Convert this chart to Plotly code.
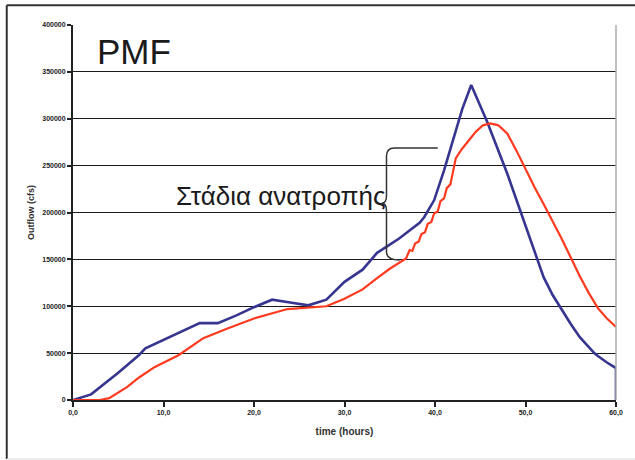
import plotly.graph_objects as go

# Blue series (time in hours, outflow in cfs)
blue_t = [0, 2, 5, 7.3, 8, 10, 12.5, 14, 16, 18, 20, 22, 24, 26, 28, 30, 32, 33.6, 36, 38.3,
          38.8, 39.9, 41, 42.1, 43, 44, 45.75, 48, 50, 52, 53, 54, 55, 56, 57, 57.6, 58, 59, 60, 60]
blue_v = [0, 6000, 29000, 48000, 55000, 64000, 75000, 82000, 82000, 90000, 99000, 107000, 104000,
          101000, 107000, 126000, 139000, 157000, 172000, 189000, 195000, 213000, 245000, 280000,
          310000, 336000, 297000, 241000, 186000, 131000, 112000, 96000, 81000, 67000, 56000,
          50000, 47000, 40000, 34000, 0]

# Red series
red_t = [0, 3, 4, 6, 7.3, 9, 11.7, 14.4, 17, 20, 23.7, 26, 28, 30, 32, 33.6, 35, 36.8,
         37.2, 37.5, 37.8, 38.2, 38.5, 38.9, 39.2, 39.6, 39.9, 40.3, 40.6, 41.0, 41.3, 41.7,
         42.0, 42.3, 43.0, 43.7, 44.5, 45.3, 46.1, 47, 48, 49, 50, 51, 52, 53, 54, 55, 56,
         57, 58, 59, 60]
red_v = [0, 0, 2000, 14000, 24000, 35000, 48000, 66000, 76000, 87000, 97000, 99000, 100000,
         108000, 118000, 130000, 140000, 151000,
         160000, 159000, 167000, 169000, 177000, 179000, 188000, 190000, 199000, 201000,
         212000, 215000, 226000, 230000, 245000, 258000, 268000, 277000, 286000, 293000,
         295000, 293000, 284000, 266000, 246000, 227000, 209000, 191000, 172000, 152000,
         132000, 114000, 98000, 87000, 78000]

x_ticks = [0, 10, 20, 30, 40, 50, 60]
x_tick_labels = ["0,0", "10,0", "20,0", "30,0", "40,0", "50,0", "60,0"]
y_ticks = [0, 50000, 100000, 150000, 200000, 250000, 300000, 350000, 400000]
y_tick_labels = ["0", "50000", "100000", "150000", "200000", "250000", "300000", "350000", "400000"]

fig = go.Figure()
fig.add_trace(go.Scatter(x=blue_t, y=blue_v, mode="lines",
                         line=dict(color="#363690", width=2.6), showlegend=False))
fig.add_trace(go.Scatter(x=red_t, y=red_v, mode="lines",
                         line=dict(color="#FF3A1E", width=2.2), showlegend=False))

axis_font = dict(family="Liberation Sans, Arial", size=7, color="#222222")

fig.update_layout(
    width=635, height=460,
    margin=dict(l=73, r=13, t=25, b=60),
    paper_bgcolor="white", plot_bgcolor="white",
    font=dict(family="Liberation Sans, Arial", color="#222222"),
    xaxis=dict(range=[0, 60], tickvals=x_ticks, ticktext=[f"<b>{s}</b>" for s in x_tick_labels],
               tickfont=axis_font, showgrid=False, zeroline=False,
               showline=True, linecolor="#222222", linewidth=2,
               ticks="outside", ticklen=5, tickcolor="#222222", tickwidth=1.5,
               title=dict(text="<b>time (hours)</b>", font=dict(size=10, color="#333333"),
                          standoff=12)),
    yaxis=dict(range=[0, 400000], tickvals=y_ticks, ticktext=[f"<b>{s}</b>" for s in y_tick_labels],
               tickfont=axis_font, showgrid=True, gridcolor="#1a1a1a", gridwidth=1.4,
               zeroline=False, showline=True, linecolor="#222222", linewidth=2,
               ticks="outside", ticklen=4, tickcolor="#222222", tickwidth=1.5,
               title=dict(text="<b>Outflow (cfs)</b>", font=dict(size=9, color="#333333"),
                          standoff=6)),
)

# Plot-area right border (light grey)
fig.add_shape(type="line", xref="paper", yref="paper", x0=1, x1=1, y0=0, y1=1,
              line=dict(color="#aaaaaa", width=1.5))
# Outer frame
fig.add_shape(type="line", xref="paper", yref="paper", x0=-0.122, x1=-0.122, y0=-0.157, y1=1.053,
              line=dict(color="#333333", width=2))
fig.add_shape(type="line", xref="paper", yref="paper", x0=-0.122, x1=1.05, y0=1.053, y1=1.053,
              line=dict(color="#333333", width=2))
fig.add_shape(type="line", xref="paper", yref="paper", x0=-0.122, x1=1.05, y0=-0.157, y1=-0.157,
              line=dict(color="#dddddd", width=1))

# Bracket
fig.add_shape(type="path", xref="x", yref="y",
              path=("M 40.3,268800 L 35.5,268800 Q 34.64,268800 34.64,260000 "
                    "L 34.64,218000 Q 34.64,210000 34.1,210000 Q 34.64,210000 34.64,202000 "
                    "L 34.64,158000 Q 34.64,149300 36.1,149300"),
              line=dict(color="#333333", width=1.5))

fig.add_annotation(x=0.04, y=0.93, xref="paper", yref="paper", text="PMF",
                   showarrow=False, xanchor="left", yanchor="middle",
                   font=dict(size=35, color="#1a1a1a", family="Liberation Sans, Arial"))
fig.add_annotation(x=34.7, y=218000, xref="x", yref="y", text="Στάδια ανατροπής",
                   showarrow=False, xanchor="right", yanchor="middle",
                   font=dict(size=26, color="#1a1a1a", family="Liberation Sans, Arial"))

fig.write_html("out.html", config={"displayModeBar": False},
               post_script="document.body.style.margin='0';document.body.style.overflow='hidden';")
